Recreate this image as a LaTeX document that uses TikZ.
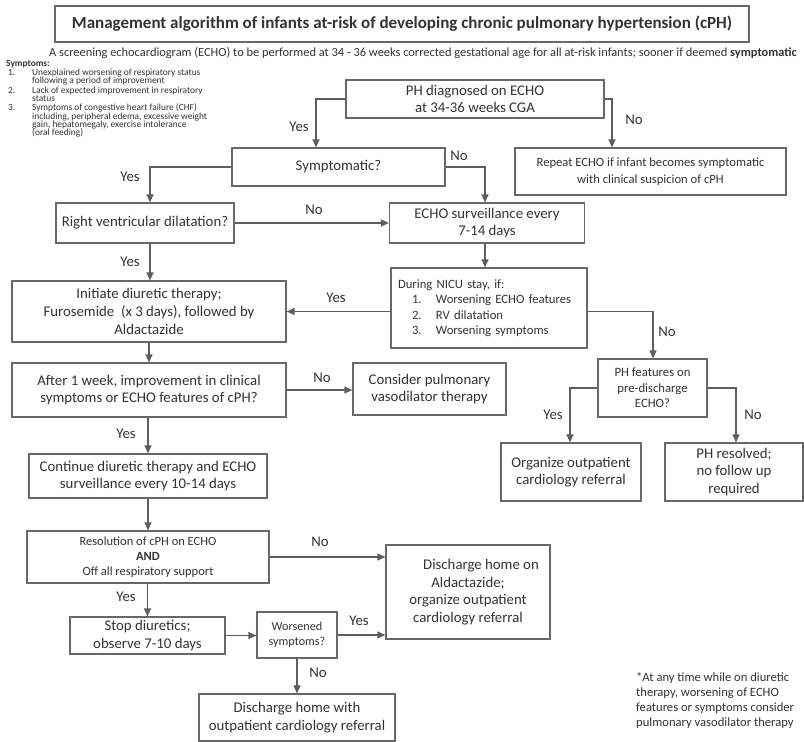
\documentclass[tikz,border=0pt]{standalone}
\usepackage{fontspec}
\setmainfont{Carlito}
\usetikzlibrary{arrows.meta,calc}
\definecolor{boxc}{HTML}{686868}
\definecolor{linec}{HTML}{5E5E5E}
\definecolor{txt}{HTML}{333333}
\newcommand{\fmain}{\fontsize{14.8}{17.7}\selectfont}
\newcommand{\fmid}{\fontsize{12.7}{15.5}\selectfont}
\newcommand{\fsym}{\fontsize{9.4}{8.4}\selectfont\lineskiplimit=-20pt\relax}
\begin{document}
\begin{tikzpicture}[x=1pt,y=-1pt,
  box/.style={draw=boxc, line width=1.2pt, text=txt, align=center, inner sep=2pt, font=\fmain},
  arr/.style={draw=linec, line width=1.2pt, -{Triangle[length=8pt,width=7pt]}},
  lab/.style={font=\fmain, text=txt, inner sep=0pt}]
\fill[white] (0,0) rectangle (804,742);
\useasboundingbox (0,0) rectangle (804,742);

% title and subtitle
\node[box, line width=1.4pt, minimum width=694pt, minimum height=36pt, font=\fontsize{17}{20}\selectfont\bfseries] (title) at (402,24)
  {Management algorithm of infants at-risk of developing chronic pulmonary hypertension (cPH)};
\node[anchor=west, inner sep=0pt, text=txt, font=\fontsize{12.4}{14}\selectfont] (sub) at (49,53)
  {A screening echocardiogram (ECHO) to be performed at 34 - 36 weeks corrected gestational age for all at-risk infants; sooner if deemed \textbf{symptomatic}};

% symptoms
\node[anchor=north west, inner sep=0pt, text=txt, font=\fsym, align=left] (symp) at (6,60) {%
\lineskiplimit=-20pt\textbf{Symptoms:}\\[0.8pt]
\hspace*{2pt}\makebox[24pt][l]{1.}Unexplained worsening of respiratory status\\
\hspace*{26pt}following a period of improvement\\[0.8pt]
\hspace*{2pt}\makebox[24pt][l]{2.}Lack of expected improvement in respiratory\\
\hspace*{26pt}status\\[0.8pt]
\hspace*{2pt}\makebox[24pt][l]{3.}Symptoms of congestive heart failure (CHF)\\
\hspace*{26pt}including, peripheral edema, excessive weight\\
\hspace*{26pt}gain, hepatomegaly, exercise intolerance\\
\hspace*{26pt}(oral feeding)};

% boxes
\node[box, minimum width=258pt, minimum height=38pt] (ph) at (475,99) {PH diagnosed on ECHO\\at 34-36 weeks CGA};
\node[box, minimum width=213pt, minimum height=38pt] (sym) at (338.5,167) {Symptomatic?};
\node[box, minimum width=271pt, minimum height=47pt, font=\fontsize{12.6}{16.5}\selectfont] (rep) at (650.5,171.5) {Repeat ECHO if infant becomes symptomatic\\with clinical suspicion of cPH};
\node[box, minimum width=178pt, minimum height=40pt] (rv) at (145,223) {Right ventricular dilatation?};
\node[box, minimum width=195pt, minimum height=40pt] (surv) at (487,223) {ECHO surveillance every\\7-14 days};
\node[box, minimum width=196pt, minimum height=80pt, text width=182pt, align=left, font=\fmid] (nicu) at (489,308) {%
During NICU stay, if:\\
\hspace*{14pt}\makebox[24pt][l]{1.}Worsening ECHO features\\
\hspace*{14pt}\makebox[24pt][l]{2.}RV dilatation\\
\hspace*{14pt}\makebox[24pt][l]{3.}Worsening symptoms};
\node[box, minimum width=274pt, minimum height=61pt] (init) at (149,311.5) {Initiate diuretic therapy;\\Furosemide\ \ (x 3 days), followed by\\Aldactazide};
\node[box, minimum width=274pt, minimum height=54pt] (after) at (149,390) {After 1 week, improvement in clinical\\symptoms or ECHO features of cPH?};
\node[box, minimum width=153pt, minimum height=52pt] (cons) at (429.5,389) {Consider pulmonary\\vasodilator therapy};
\node[box, minimum width=109pt, minimum height=58pt, font=\fmid] (phf) at (652.5,388) {PH features on\\pre-discharge\\ECHO?};
\node[box, minimum width=140pt, minimum height=58pt] (org) at (571,472) {Organize outpatient\\cardiology referral};
\node[box, minimum width=138pt, minimum height=58pt] (res) at (734,472) {PH resolved;\\no follow up\\required};
\node[box, minimum width=238pt, minimum height=44pt] (cont) at (148,476) {Continue diuretic therapy and ECHO\\surveillance every 10-14 days};
\node[box, minimum width=242pt, minimum height=52pt, font=\fontsize{12.5}{15}\selectfont] (resol) at (148,557) {Resolution of cPH on ECHO\\\textbf{AND}\\Off all respiratory support};
\node[box, minimum width=164pt, minimum height=94pt] (dis1) at (468,592) {\hspace*{26pt}Discharge home on\\Aldactazide;\\organize outpatient\\cardiology referral};
\node[box, minimum width=155pt, minimum height=37pt] (stop) at (147.5,635.5) {Stop diuretics;\\observe 7-10 days};
\node[box, minimum width=80pt, minimum height=46pt, font=\fontsize{12.2}{15}\selectfont] (wors) at (297,635) {Worsened\\symptoms?};
\node[box, minimum width=196pt, minimum height=47pt] (dis2) at (297,717.5) {Discharge home with\\outpatient cardiology referral};

% footnote
\node[anchor=north west, inner sep=0pt, text=txt, align=left, font=\fontsize{12.6}{15}\selectfont] (foot) at (636,672)
  {*At any time while on diuretic\\therapy, worsening of ECHO\\features or symptoms consider\\pulmonary vasodilator therapy};

% column coordinates
\coordinate (xA) at (316,0);
\coordinate (xB) at (612,0);
\coordinate (xC) at (150,0);
\coordinate (xD) at (485,0);
\coordinate (xE) at (653,0);
\coordinate (xF) at (570,0);
\coordinate (xG) at (736,0);

% connectors
\draw[arr] (ph.west) -| (sym.north -| xA);
\draw[arr] (ph.east) -| (rep.north -| xB);
\draw[arr] (sym.west) -| (rv.north -| xC);
\draw[arr] (sym.east) -| (surv.north -| xD);
\draw[arr] (rv.east) -- (surv.west);
\draw[arr] (rv.south -| xC) -- (init.north -| xC);
\draw[arr] (surv.south -| xD) -- (nicu.north -| xD);
\draw[arr] (nicu.west |- init.east) -- (init.east);
\draw[arr] (nicu.east |- init.east) -| (phf.north -| xE);
\draw[arr] (phf.west) -| (org.north -| xF);
\draw[arr] (phf.east) -| (res.north -| xG);
\draw[arr] (init.south) -- (after.north);
\draw[arr] (after.east) -- (after.east -| cons.west);
\draw[arr] (after.south -| cont.north) -- (cont.north);
\draw[arr] (cont.south) -- (resol.north);
\draw[arr] (resol.east) -- (resol.east -| dis1.west);
\draw[arr] (resol.south -| stop.north) -- (stop.north);
\draw[arr] (stop.east) -- (stop.east -| wors.west);
\draw[arr] (wors.east) -- (wors.east -| dis1.west);
\draw[arr] (wors.south) -- (dis2.north);

% labels
\node[lab] (l1) at (299,127) {Yes};
\node[lab] (l2) at (634,120) {No};
\node[lab] (l3) at (130,177) {Yes};
\node[lab] (l4) at (459,156) {No};
\node[lab] (l5) at (314,210) {No};
\node[lab] (l6) at (130,262) {Yes};
\node[lab] (l7) at (336,298) {Yes};
\node[lab] (l8) at (667,332) {No};
\node[lab] (l9) at (322,378) {No};
\node[lab] (l10) at (553,415) {Yes};
\node[lab] (l11) at (753,415) {No};
\node[lab] (l12) at (126,434) {Yes};
\node[lab] (l13) at (320,542) {No};
\node[lab] (l14) at (126,597) {Yes};
\node[lab] (l15) at (359,621) {Yes};
\node[lab] (l16) at (318,673) {No};
\end{tikzpicture}
\end{document}
